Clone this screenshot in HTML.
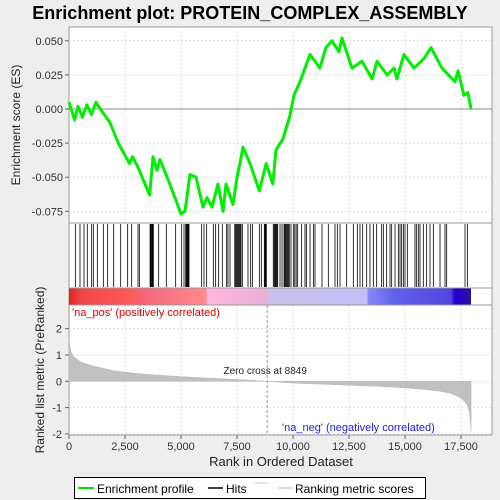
<!DOCTYPE html>
<html><head><meta charset="utf-8"><style>
body{margin:0;background:#eeeeee;font-family:"Liberation Sans",sans-serif}
svg{display:block}
</style></head><body>
<svg width="500" height="500" viewBox="0 0 500 500">
<defs>
<linearGradient id="cbar" x1="0" x2="1" y1="0" y2="0" gradientUnits="objectBoundingBox">
<stop offset="0" stop-color="#e02020"/><stop offset="0.03" stop-color="#f04848"/>
<stop offset="0.15" stop-color="#ff5858"/><stop offset="0.2" stop-color="#f56a80"/>
<stop offset="0.34" stop-color="#ff8a8a"/><stop offset="0.345" stop-color="#ffb8dc"/>
<stop offset="0.49" stop-color="#e8b0d8"/><stop offset="0.5" stop-color="#c8c0e8"/>
<stop offset="0.74" stop-color="#c4c0f8"/><stop offset="0.745" stop-color="#8888f8"/>
<stop offset="0.81" stop-color="#6060ee"/><stop offset="0.95" stop-color="#5545e0"/>
<stop offset="0.96" stop-color="#2000d0"/><stop offset="1" stop-color="#3010a0"/>
</linearGradient>
</defs>
<text x="250" y="19" text-anchor="middle" font-size="18" font-weight="bold" fill="#000">Enrichment plot: PROTEIN_COMPLEX_ASSEMBLY</text>
<rect x="69" y="27" width="423" height="408" fill="#fff" stroke="#999"/>
<g id="grid"></g>
<g id="es"></g>
<rect x="69" y="288" width="402" height="17" fill="url(#cbar)"/>
<line x1="69" x2="492" y1="223" y2="223" stroke="#999"/>
<line x1="69" x2="492" y1="288" y2="288" stroke="#999"/>
<line x1="69" x2="492" y1="305" y2="305" stroke="#999"/>
<g id="hits"></g>
<g id="metric"></g>
<text x="72" y="316" font-size="11" fill="#e00000">'na_pos' (positively correlated)</text>
<text x="282" y="431" font-size="11" fill="#2020e0">'na_neg' (negatively correlated)</text>
<g id="xaxis"></g>
<text x="281" y="466" text-anchor="middle" font-size="13" fill="#222">Rank in Ordered Dataset</text>
<text transform="translate(20,125) rotate(-90)" text-anchor="middle" font-size="12" fill="#222">Enrichment score (ES)</text>
<text transform="translate(44,370) rotate(-90)" text-anchor="middle" font-size="12" fill="#222">Ranked list metric (PreRanked)</text>
<g>
<rect x="74.5" y="477.5" width="351" height="21" fill="#fff" stroke="#000"/>
<line x1="78" x2="94" y1="488" y2="488" stroke="#00e000" stroke-width="2"/>
<text x="97" y="493" font-size="12" fill="#000">Enrichment profile</text>
<line x1="208" x2="223" y1="488" y2="488" stroke="#000" stroke-width="1.5"/>
<text x="226" y="493" font-size="12" fill="#000">Hits</text>
<line x1="254" x2="268" y1="483" y2="483" stroke="#ccc"/>
<line x1="278" x2="292" y1="488" y2="488" stroke="#ccc" stroke-width="1.5"/>
<text x="295" y="493" font-size="12" fill="#000">Ranking metric scores</text>
</g>
</svg>
<script>
const esRanks=[0,250,400,600,800,1000,1200,1400,1830,2200,2700,2830,3060,3600,3750,3930,4060,4380,4730,5000,5180,5400,5670,5980,6160,6380,6650,6880,7010,7320,7500,7630,7770,8080,8500,8800,9100,9240,9550,9860,10040,10310,10760,11200,11470,11740,12050,12190,12630,13080,13530,13750,14200,14510,14640,14950,15400,15850,16160,16650,17230,17370,17630,17810,17950];
const esVals=[0.005,-0.008,0.002,-0.006,0.003,-0.004,0.005,0.0,-0.01,-0.025,-0.04,-0.035,-0.042,-0.063,-0.035,-0.045,-0.037,-0.05,-0.065,-0.077,-0.075,-0.048,-0.05,-0.072,-0.065,-0.072,-0.055,-0.075,-0.055,-0.07,-0.05,-0.04,-0.028,-0.04,-0.06,-0.04,-0.055,-0.03,-0.022,-0.005,0.01,0.02,0.04,0.03,0.045,0.05,0.042,0.052,0.03,0.035,0.022,0.035,0.025,0.03,0.022,0.04,0.03,0.037,0.045,0.03,0.02,0.028,0.01,0.012,0.0];
const hitRanks=[283,491,670,818,1012,1086,1265,1533,1726,1994,2307,2619,2798,3080,3140,3620,3650,3680,3710,3740,3765,4003,4345,4762,5030,5134,5210,5240,5270,5300,5330,5357,5923,6027,6146,6443,6547,6681,6845,7039,7098,7188,7400,7440,7480,7520,7560,7600,7640,7680,7738,7991,8110,8185,8497,8586,8720,8750,8780,8810,9120,9160,9200,9240,9280,9315,9420,9510,9600,9640,9680,9720,9760,9800,9835,9910,10015,10080,10140,10208,10387,10536,10596,10760,10909,10982,11295,11577,11875,11979,12098,12396,12693,12872,12991,13110,13289,13437,13586,13735,13958,14033,14182,14330,14405,14554,14702,14777,14851,14926,15000,15104,15446,15521,15595,15670,15818,15967,16116,16265,16563,16786,16860,17679,17783];
const metricRanks=[0,50,100,200,300,500,700,1000,1500,2000,3000,4000,5000,6000,7500,8849,10000,11000,12500,14000,15000,16000,16500,17000,17300,17500,17700,17800,17880,17930,17950];
const metricVals=[1.6,1.3,1.1,0.95,0.88,0.75,0.68,0.6,0.5,0.4,0.3,0.23,0.18,0.13,0.07,0,-0.07,-0.1,-0.15,-0.2,-0.25,-0.32,-0.37,-0.45,-0.55,-0.65,-0.8,-0.95,-1.2,-1.6,-1.9];
const xTicks=[0,2500,5000,7500,10000,12500,15000,17500];
const xTickLabels=["0","2,500","5,000","7,500","10,000","12,500","15,000","17,500"];
const esTicks=[0.05,0.025,0,-0.025,-0.05,-0.075];
const esTickLabels=["0.050","0.025","0.000","-0.025","-0.050","-0.075"];
const mTicks=[2,1,0,-1,-2];
const NS='http://www.w3.org/2000/svg';
const X=r=>69+r*0.0224;
const YE=v=>109-v*(34.1/0.025);
const YM=v=>381.3-v*26.3;
function mk(t,a,p){const e=document.createElementNS(NS,t);for(const k in a)e.setAttribute(k,a[k]);p.appendChild(e);return e;}
const grid=document.getElementById('grid'),xa=document.getElementById('xaxis');
xTicks.forEach((t,i)=>{
 if(t>0){mk('line',{x1:X(t),x2:X(t),y1:27,y2:223,stroke:'#ddd','stroke-dasharray':'2,2'},grid);
 mk('line',{x1:X(t),x2:X(t),y1:305,y2:435,stroke:'#ddd','stroke-dasharray':'2,2'},grid);}
 mk('line',{x1:X(t),x2:X(t),y1:435,y2:439,stroke:'#666'},xa);
 const tx=mk('text',{x:X(t),y:450,'text-anchor':'middle','font-size':'11',fill:'#333'},xa);tx.textContent=xTickLabels[i];
 
 
});
esTicks.forEach((t,i)=>{
 mk('line',{x1:69,x2:492,y1:YE(t),y2:YE(t),stroke:t===0?'#888':'#ddd','stroke-dasharray':t===0?'':'2,2'},grid);
 mk('line',{x1:65,x2:69,y1:YE(t),y2:YE(t),stroke:'#666'},grid);
 const tx=mk('text',{x:63,y:YE(t)+4,'text-anchor':'end','font-size':'11',fill:'#333'},grid);tx.textContent=esTickLabels[i];
 
 
});
mTicks.forEach(t=>{
 mk('line',{x1:69,x2:492,y1:YM(t),y2:YM(t),stroke:'#ddd','stroke-dasharray':'2,2'},grid);
 mk('line',{x1:65,x2:69,y1:YM(t),y2:YM(t),stroke:'#666'},grid);
 const tx=mk('text',{x:62,y:YM(t)+4,'text-anchor':'end','font-size':'11',fill:'#333'},grid);tx.textContent=String(t);
 
 
});
const met=document.getElementById('metric');
let d='M'+X(0)+','+YM(0);
metricRanks.forEach((r,i)=>{d+=' L'+X(r)+','+YM(metricVals[i]);});
d+=' L'+X(metricRanks[metricRanks.length-1])+','+YM(0)+' Z';
const area=mk('path',{d:d,fill:'#c0c0c0',stroke:'#b8b8b8','stroke-width':'0.5'},met);


const zl=mk('line',{x1:X(8849),x2:X(8849),y1:305,y2:435,stroke:'#999','stroke-dasharray':'3,2'},met);


const zt=mk('text',{x:X(8849)-2,y:374,'text-anchor':'middle','font-size':'10',fill:'#222'},met);zt.textContent='Zero cross at 8849';


const hits=document.getElementById('hits');
hitRanks.forEach(r=>{const l=mk('line',{x1:X(r),x2:X(r),y1:224,y2:287,stroke:'#000','stroke-width':'0.8'},hits);
 
 });
const es=document.getElementById('es');
const pts=esRanks.map((r,i)=>X(r)+','+YE(esVals[i])).join(' ');
const pl=mk('polyline',{points:pts,fill:'none',stroke:'#00ee00','stroke-width':'3','stroke-linejoin':'round'},es);


</script>
</body></html>
